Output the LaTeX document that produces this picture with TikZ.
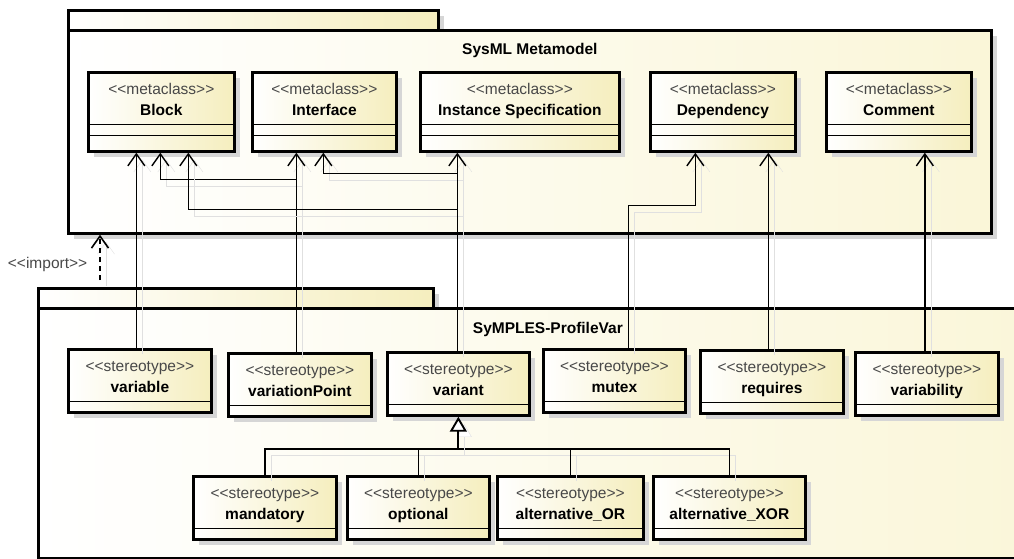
\documentclass[tikz,border=0pt]{standalone}
\usepackage{fontspec}
\newfontfamily\umlfont{Liberation Sans}
\usetikzlibrary{arrows.meta,shadows}

\definecolor{boxyellow}{RGB}{245,238,190}
\definecolor{pkgyellow}{RGB}{250,246,216}
\definecolor{shadowgray}{RGB}{214,214,214}
\definecolor{stereogray}{RGB}{72,72,72}

\newcommand{\umllabel}[2]{\begin{tabular}[t]{@{}c@{}}\textcolor{stereogray}{<<#1>>}\\\textbf{#2}\end{tabular}}

\tikzset{
  umlbox/.style={draw, line width=2.7pt, left color=white, right color=boxyellow, inner sep=0pt,
    anchor=north west, text height=22pt,
    general shadow={fill=shadowgray, shadow xshift=6pt, shadow yshift=-6pt}},
  metabox/.style={umlbox, text depth=57pt, path picture={
    \draw[line width=1.2pt] ([yshift=-52pt]path picture bounding box.north west) -- ([yshift=-52pt]path picture bounding box.north east);
    \draw[line width=1.2pt] ([yshift=-63pt]path picture bounding box.north west) -- ([yshift=-63pt]path picture bounding box.north east);}},
  stereobox/.style={umlbox, text depth=41pt, path picture={
    \draw[line width=1.2pt] ([yshift=-52pt]path picture bounding box.north west) -- ([yshift=-52pt]path picture bounding box.north east);}},
  pkgbody/.style={draw, line width=2.7pt, left color=white, right color=pkgyellow, inner sep=0pt,
    anchor=north west, general shadow={fill=shadowgray, shadow xshift=6pt, shadow yshift=-6pt}},
  pkgtab/.style={pkgbody, right color=boxyellow, minimum height=20pt},
  lineshadow/.style={preaction={draw=black!12, transform canvas={shift={(6pt,-6pt)}}}},
  extline/.style={line width=1.4pt, -{Straight Barb[length=12pt,width=17pt]}, lineshadow},
  importline/.style={line width=1.6pt, dash pattern=on 5pt off 4pt, -{Straight Barb[length=12pt,width=17pt]}, lineshadow},
  genline/.style={line width=1.9pt, -{Triangle[fill=white,length=15pt,width=17pt]}, lineshadow},
  busline/.style={line width=1.4pt, lineshadow}
}

\begin{document}
\begin{tikzpicture}[x=1pt, y=-1pt, font=\umlfont\fontsize{15.5}{21.5}\selectfont]
    \path[use as bounding box] (0,0) rectangle (1014,558);
    \clip (0,0) rectangle (1014,558);

    % packages
    \node[pkgtab, minimum width=370pt] (metatab) at (67,9) {};
    \node[pkgbody, minimum width=923pt, text height=24.5pt, text depth=178.5pt] (metapkg) at (67,29) {\textbf{SysML Metamodel}};
    \node[pkgtab, minimum width=395pt] (proftab) at (37,287) {};
    \node[pkgbody, minimum width=1019pt, text height=25.5pt, text depth=224.5pt] (profpkg) at (37,307) {\textbf{SyMPLES-ProfileVar}};

    % metaclasses
    \node[metabox, minimum width=146pt] (block) at (87,71) {\umllabel{metaclass}{Block}};
    \node[metabox, minimum width=144pt] (iface) at (251,71) {\umllabel{metaclass}{Interface}};
    \node[metabox, minimum width=199pt] (inst) at (419,71) {\umllabel{metaclass}{Instance Specification}};
    \node[metabox, minimum width=145pt] (dep) at (649,71) {\umllabel{metaclass}{Dependency}};
    \node[metabox, minimum width=145pt] (cmt) at (825,71) {\umllabel{metaclass}{Comment}};

    % stereotypes
    \node[stereobox, minimum width=143pt] (var) at (67,348) {\umllabel{stereotype}{variable}};
    \node[stereobox, minimum width=143pt] (vpt) at (227,352) {\umllabel{stereotype}{variationPoint}};
    \node[stereobox, minimum width=142pt] (variant) at (386,351) {\umllabel{stereotype}{variant}};
    \node[stereobox, minimum width=142pt] (mutex) at (542,348) {\umllabel{stereotype}{mutex}};
    \node[stereobox, minimum width=143pt] (req) at (699,349) {\umllabel{stereotype}{requires}};
    \node[stereobox, minimum width=143pt] (vab) at (854,351) {\umllabel{stereotype}{variability}};
    \node[stereobox, minimum width=143pt] (mand) at (192,475) {\umllabel{stereotype}{mandatory}};
    \node[stereobox, minimum width=142pt] (opt) at (346,475) {\umllabel{stereotype}{optional}};
    \node[stereobox, minimum width=146pt] (altor) at (496,475) {\umllabel{stereotype}{alternative\_OR}};
    \node[stereobox, minimum width=152pt] (altxor) at (652,475) {\umllabel{stereotype}{alternative\_XOR}};

    % extensions
    \draw[extline] ([xshift=-3.5pt]var.north) -- ([xshift=-3.5pt]var.north |- block.south);
    \draw[extline] ([xshift=-3.5pt]vpt.north) -- ([xshift=-3.5pt]vpt.north |- iface.south);
    \draw[extline] ([xshift=-3.5pt]vpt.north) |- ([xshift=-1pt,yshift=-27pt]block.south) -- ([xshift=-1pt]block.south);
    \draw[extline] ([xshift=-1pt]variant.north) -- ([xshift=-1pt]variant.north |- inst.south);
    \draw[extline] ([xshift=-1pt]variant.north) |- ([xshift=27pt,yshift=-57pt]block.south) -- ([xshift=27pt]block.south);
    \draw[extline] ([xshift=-1pt]variant.north) |- ([xshift=-1pt,yshift=-21pt]iface.south) -- ([xshift=-1pt]iface.south);
    \draw[extline] ([xshift=14pt]mutex.north) |- ([xshift=-27.5pt,yshift=-53pt]dep.south) -- ([xshift=-27.5pt]dep.south);
    \draw[extline] ([xshift=-3.5pt]req.north) -- ([xshift=-3.5pt]req.north |- dep.south);
    \draw[extline] ([xshift=-2pt]vab.north) -- ([xshift=-2pt]vab.north |- cmt.south);

    % generalization
    \coordinate (bus) at (457,449);
    \draw[busline] (mand.north) |- (bus) -| (altxor.north);
    \draw[busline] (opt.north) -- (opt.north |- bus);
    \draw[busline] (altor.north) -- (altor.north |- bus);
    \draw[genline] (variant.south |- bus) -- (variant.south);

    % import
    \draw[importline] ([xshift=63pt,yshift=7pt]proftab.north west) -- ([xshift=33pt]metapkg.south west)
        node[pos=0.35, left=12pt, inner sep=0pt, text=stereogray] {<<import>>};
\end{tikzpicture}
\end{document}
